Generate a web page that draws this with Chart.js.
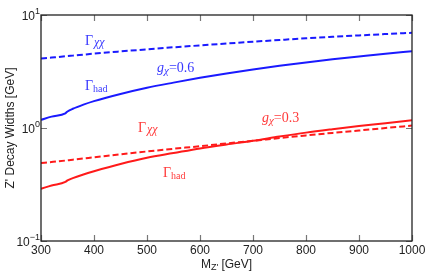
<!DOCTYPE html>
<html>
<head>
<meta charset="utf-8">
<script src="https://cdn.jsdelivr.net/npm/chart.js@4.4.0/dist/chart.umd.min.js"></script>
<style>
  body { margin: 0; background: #fff; }
  #wrap { width: 425px; height: 273px; }
</style>
</head>
<body>
<div id="wrap"><canvas id="widthChart" width="425" height="273"></canvas></div>
<script>
// Z' masses (GeV)
const masses = [300, 320, 346, 350, 360, 380, 400, 450, 500, 550, 600, 650, 700, 750, 800, 850, 900, 950, 1000];

// g_chi = 0.6
const hadWide = [1.18, 1.26, 1.35, 1.40, 1.48, 1.61, 1.73, 2.00, 2.27, 2.52, 2.78, 3.04, 3.30, 3.55, 3.80, 4.05, 4.29, 4.54, 4.78];
const chiWide = [4.12, 4.20, 4.31, 4.33, 4.37, 4.46, 4.55, 4.76, 4.97, 5.18, 5.38, 5.59, 5.80, 6.01, 6.22, 6.41, 6.60, 6.78, 6.96];

// g_chi = 0.3
const hadNarrow = [0.29, 0.31, 0.333, 0.344, 0.36, 0.388, 0.414, 0.48, 0.545, 0.60, 0.66, 0.715, 0.77, 0.84, 0.91, 0.975, 1.04, 1.10, 1.17];
const chiNarrow = [0.49, 0.50, 0.515, 0.518, 0.524, 0.537, 0.55, 0.585, 0.62, 0.655, 0.69, 0.73, 0.77, 0.815, 0.86, 0.905, 0.95, 1.00, 1.05];

// axis ticks
const xTicks = [300, 400, 500, 600, 700, 800, 900, 1000];
const yTicks = [0.1, 1, 10];
const yTickExp = ['\u22121', '0', '1'];

const BLUE = '#1a1aff';
const RED = '#ff1a1a';

function pts(ys) {
    return masses.map((m, i) => ({ x: m, y: ys[i] }));
}

function line(label, ys, color, dashed) {
    return {
        label: label,
        data: pts(ys),
        borderColor: color,
        borderWidth: 2,
        borderDash: dashed ? [6, 3] : [],
        pointRadius: 0,
        fill: false,
        cubicInterpolationMode: 'monotone'
    };
}

// text labels placed in data coordinates
const notes = [
    { kind: 'G', sub: 'χχ', x: 383, y: 5.4, color: '#3a3aff' },
    { kind: 'g', val: '=0.6', x: 519, y: 3.16, color: '#3a3aff' },
    { kind: 'G', sub: 'had', x: 383, y: 2.15, color: '#3a3aff' },
    { kind: 'G', sub: 'χχ', x: 483, y: 0.93, color: '#ff3a3a' },
    { kind: 'g', val: '=0.3', x: 717, y: 1.14, color: '#ff3a3a' },
    { kind: 'G', sub: 'had', x: 530, y: 0.365, color: '#ff3a3a' }
];

const decor = {
    id: 'decor',
    afterDraw(chart) {
        const ctx = chart.ctx;
        const a = chart.chartArea;
        const sx = chart.scales.x, sy = chart.scales.y;
        ctx.save();

        // inward ticks
        ctx.strokeStyle = '#777';
        ctx.lineWidth = 1.2;
        xTicks.forEach(v => {
            const px = Math.round(sx.getPixelForValue(v)) + 0.5;
            ctx.beginPath();
            ctx.moveTo(px, a.bottom); ctx.lineTo(px, a.bottom - 6);
            ctx.moveTo(px, a.top); ctx.lineTo(px, a.top + 6);
            ctx.stroke();
        });
        yTicks.forEach(v => {
            const py = Math.round(sy.getPixelForValue(v)) + 0.5;
            ctx.beginPath();
            ctx.moveTo(a.left, py); ctx.lineTo(a.left + 6, py);
            ctx.moveTo(a.right, py); ctx.lineTo(a.right - 6, py);
            ctx.stroke();
        });

        // frame
        ctx.strokeStyle = '#222';
        ctx.lineWidth = 1.3;
        ctx.strokeRect(a.left, a.top, a.right - a.left, a.bottom - a.top);

        // x tick labels
        ctx.fillStyle = '#222';
        ctx.font = '12px "Liberation Sans", Arial, sans-serif';
        ctx.textAlign = 'center';
        ctx.textBaseline = 'top';
        xTicks.forEach(v => {
            ctx.fillText(String(v), sx.getPixelForValue(v), a.bottom + 4);
        });

        // y tick labels 10^n
        ctx.textBaseline = 'alphabetic';
        yTicks.forEach((v, i) => {
            const py = sy.getPixelForValue(v);
            ctx.font = '9px "Liberation Sans", Arial, sans-serif';
            const ew = ctx.measureText(yTickExp[i]).width;
            ctx.textAlign = 'right';
            ctx.fillText(yTickExp[i], a.left - 1, py - 1);
            ctx.font = '12px "Liberation Sans", Arial, sans-serif';
            ctx.fillText('10', a.left - 1 - ew, py + 5);
        });

        // x title: M_Z' [GeV]
        const cx = (a.left + a.right) / 2;
        const ty = 268;
        ctx.textAlign = 'left';
        ctx.font = '12px "Liberation Sans", Arial, sans-serif';
        const wM = ctx.measureText('M').width;
        const wRest = ctx.measureText(' [GeV]').width;
        ctx.font = '9px "Liberation Sans", Arial, sans-serif';
        const wZ = ctx.measureText("Z'").width;
        let x0 = cx - (wM + wZ + wRest) / 2;
        ctx.font = '12px "Liberation Sans", Arial, sans-serif';
        ctx.fillText('M', x0, ty);
        ctx.font = '9px "Liberation Sans", Arial, sans-serif';
        ctx.fillText("Z'", x0 + wM, ty + 2);
        ctx.font = '12px "Liberation Sans", Arial, sans-serif';
        ctx.fillText(' [GeV]', x0 + wM + wZ, ty);

        // y title
        ctx.save();
        ctx.translate(14, (a.top + a.bottom) / 2);
        ctx.rotate(-Math.PI / 2);
        ctx.textAlign = 'center';
        ctx.font = '12px "Liberation Sans", Arial, sans-serif';
        ctx.fillText("Z' Decay Widths [GeV]", 0, 0);
        ctx.restore();

        // curve annotations
        notes.forEach(n => {
            const px = sx.getPixelForValue(n.x);
            const py = sy.getPixelForValue(n.y);
            ctx.fillStyle = n.color;
            ctx.textAlign = 'left';
            if (n.kind === 'G') {
                ctx.font = '14px "Liberation Serif", "Times New Roman", serif';
                ctx.fillText('Γ', px, py);
                const w = ctx.measureText('Γ').width;
                if (n.sub === 'had') {
                    ctx.font = '10px "Liberation Serif", "Times New Roman", serif';
                    ctx.fillText('had', px + w, py + 2);
                } else {
                    ctx.font = 'italic 12px "Liberation Serif", "Times New Roman", serif';
                    ctx.fillText(n.sub, px + w + 1, py + 1);
                }
            } else {
                ctx.font = 'italic 14px "Liberation Serif", "Times New Roman", serif';
                ctx.fillText('g', px, py);
                let w = ctx.measureText('g').width;
                ctx.font = 'italic 11px "Liberation Serif", "Times New Roman", serif';
                ctx.fillText('χ', px + w, py + 2);
                w += ctx.measureText('χ').width;
                ctx.font = '14px "Liberation Serif", "Times New Roman", serif';
                ctx.fillText(n.val, px + w, py);
            }
        });

        ctx.restore();
    }
};

new Chart(document.getElementById('widthChart').getContext('2d'), {
    type: 'line',
    data: {
        datasets: [
            line('Γχχ gχ=0.6', chiWide, BLUE, true),
            line('Γhad gχ=0.6', hadWide, BLUE, false),
            line('Γχχ gχ=0.3', chiNarrow, RED, true),
            line('Γhad gχ=0.3', hadNarrow, RED, false)
        ]
    },
    options: {
        responsive: false,
        animation: false,
        layout: { padding: { left: 41, right: 13, top: 15, bottom: 32 } },
        plugins: {
            legend: { display: false },
            tooltip: { enabled: false }
        },
        scales: {
            x: { type: 'linear', min: 300, max: 1000, display: false },
            y: { type: 'logarithmic', min: 0.1, max: 10, display: false }
        }
    },
    plugins: [decor]
});
</script>
</body>
</html>
